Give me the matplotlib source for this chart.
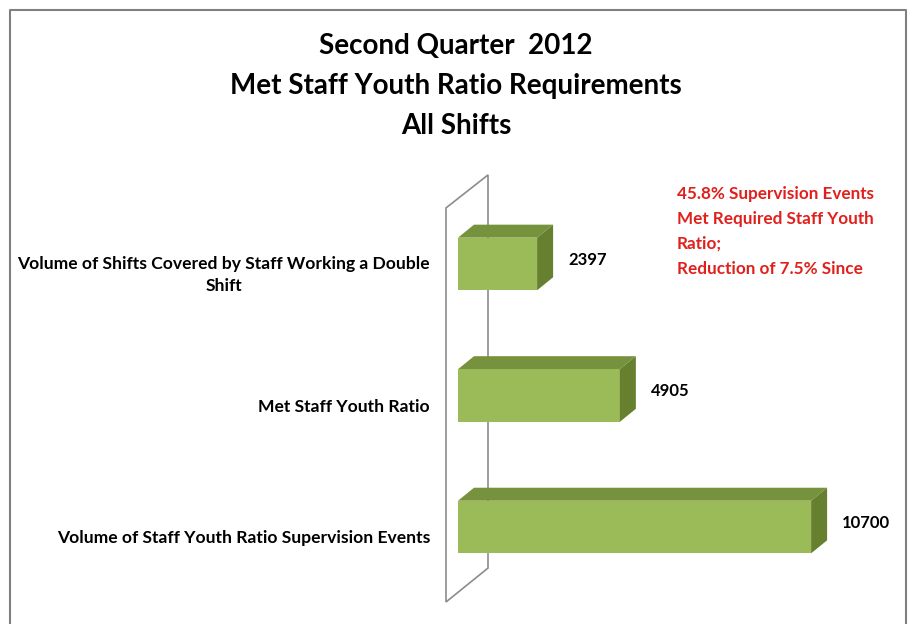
import matplotlib
matplotlib.use("Agg")
import matplotlib.pyplot as plt
from matplotlib.patches import Polygon
from matplotlib.lines import Line2D

categories = ["Volume of Staff Youth Ratio Supervision Events",
              "Met Staff Youth Ratio",
              "Volume of Shifts Covered by Staff Working a Double\nShift"]
values = [10700, 4905, 2397]
title_lines = ["Second Quarter  2012",
               "Met Staff Youth Ratio Requirements",
               "All Shifts"]
note_lines = ["45.8% Supervision Events",
              "Met Required Staff Youth",
              "Ratio;",
              "Reduction of 7.5% Since"]

FRONT = "#9BBB59"
TOP = "#76923C"
SIDE = "#67802F"
FONT = "Lato"

W, H = 909, 624
fig = plt.figure(figsize=(W / 100, H / 100), dpi=100)
ax = fig.add_axes([458 / W, 22 / H, 396 / W, 413 / H])
ax.set_xlim(0, 12000)
ax.set_ylim(-0.57, 2.57)
ax.axis("off")

# data units per pixel, used for the fake 3d depth
ux = 12000 / 396
uy = 3.14 / 413
dx, dy = 16 * ux, 13 * uy
bar_h = 0.40

# back wall of the 3d chart
wall = Polygon([(-12 * ux, -0.57), (-12 * ux, 2.426), (30 * ux, 2.677), (30 * ux, -0.312)],
               closed=True, facecolor="none", edgecolor="#8c8c8c", lw=1.2,
               zorder=1, clip_on=False)
ax.add_patch(wall)

ypos = list(range(len(values)))
ax.barh(ypos, values, height=bar_h, color=FRONT, zorder=3)

for i, v in zip(ypos, values):
    top = i + bar_h / 2
    bot = i - bar_h / 2
    ax.add_patch(Polygon([(0, top), (v, top), (v + dx, top + dy), (dx, top + dy)],
                         closed=True, color=TOP, lw=0, zorder=2, clip_on=False))
    ax.add_patch(Polygon([(v, bot), (v + dx, bot + dy), (v + dx, top + dy), (v, top)],
                         closed=True, color=SIDE, lw=0, zorder=3, clip_on=False))
    ax.text(v + dx + 15 * ux, i + 4 * uy, str(v), ha="left", va="center",
            fontsize=12, fontweight="bold", family=FONT, clip_on=False)

for i, name in zip(ypos, categories):
    ax.text(-28 * ux, i - 11 * uy, name, ha="right", va="center", multialignment="center",
            fontsize=12.6, fontweight="bold", family=FONT, linespacing=1.45,
            clip_on=False)

for k, line in enumerate(title_lines):
    fig.text(456 / W, 1 - (46 + 40 * k) / H, line, ha="center", va="center",
             fontsize=20, fontweight="bold", family=FONT)

for k, line in enumerate(note_lines):
    fig.text(677 / W, 1 - (194 + 25 * k) / H, line, ha="left", va="center",
             fontsize=12.3, fontweight="bold", family=FONT, color="#E0201C")

# chart area border (open at the bottom)
fig.add_artist(Line2D([10 / W, 10 / W, 906 / W, 906 / W], [0, 1 - 10 / H, 1 - 10 / H, 0],
                      color="#808080", lw=1.5))

fig.savefig("out.png", dpi=100)
